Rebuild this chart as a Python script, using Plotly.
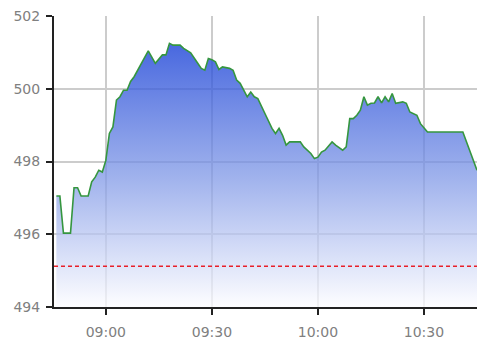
import plotly.graph_objects as go

times = ["08:46", "08:47", "08:48", "08:50", "08:51", "08:52", "08:53", "08:55", "08:56", "08:57",
         "08:58", "08:59", "09:00", "09:01", "09:02", "09:03", "09:04", "09:05", "09:06", "09:07",
         "09:08", "09:09", "09:11", "09:12", "09:14", "09:15", "09:16", "09:17", "09:18", "09:19",
         "09:21", "09:22", "09:24", "09:26", "09:27", "09:28", "09:29", "09:30", "09:31", "09:32",
         "09:33", "09:35", "09:36", "09:37", "09:38", "09:40", "09:41", "09:42", "09:43", "09:45",
         "09:46", "09:47", "09:48", "09:49", "09:50", "09:51", "09:52", "09:55", "09:56", "09:58",
         "09:59", "10:00", "10:01", "10:02", "10:04", "10:05", "10:07", "10:08", "10:09", "10:10",
         "10:11", "10:12", "10:13", "10:14", "10:15", "10:16", "10:17", "10:18", "10:19", "10:20",
         "10:21", "10:22", "10:24", "10:25", "10:26", "10:28", "10:29", "10:31", "10:41", "10:45"]
prices = [497.05, 497.05, 496.03, 496.03, 497.28, 497.28, 497.05, 497.05, 497.44, 497.57,
          497.76, 497.71, 498.03, 498.77, 498.95, 499.69, 499.78, 499.96, 499.96, 500.20,
          500.33, 500.51, 500.88, 501.04, 500.70, 500.83, 500.93, 500.93, 501.25, 501.20,
          501.20, 501.11, 500.99, 500.70, 500.56, 500.51, 500.83, 500.80, 500.74, 500.53,
          500.60, 500.56, 500.51, 500.24, 500.15, 499.78, 499.91, 499.78, 499.73, 499.32,
          499.09, 498.91, 498.77, 498.91, 498.72, 498.45, 498.54, 498.54, 498.40, 498.22,
          498.08, 498.12, 498.26, 498.31, 498.54, 498.45, 498.31, 498.40, 499.18, 499.18,
          499.27, 499.41, 499.78, 499.55, 499.60, 499.61, 499.78, 499.61, 499.78, 499.64,
          499.87, 499.60, 499.64, 499.60, 499.36, 499.27, 499.04, 498.81, 498.81, 497.76]
prev_close = 495.12
y_ticks = [494, 496, 498, 500, 502]
x_ticks = ["09:00", "09:30", "10:00", "10:30"]
x_range = ["08:45:20", "10:45:00"]

DAY = "2024-01-02 "
xs = [DAY + t for t in times]

fig = go.Figure()
fig.add_trace(go.Scatter(
    x=xs, y=prices, mode="lines",
    line=dict(color="#35963f", width=1.6),
    fill="tozeroy",
    fillgradient=dict(
        type="vertical",
        start=y_ticks[0], stop=max(prices),
        colorscale=[[0, "rgba(252,252,255,0.75)"], [0.5, "rgba(125,150,230,0.75)"],
                    [1, "rgba(25,65,215,0.8)"]],
    ),
    hoverinfo="skip",
))
fig.add_hline(y=prev_close, line=dict(color="#e8202a", width=1.5, dash="4px,3px"))

font = dict(family="DejaVu Sans", size=14, color="#808080")
fig.update_layout(
    width=477, height=339,
    margin=dict(l=54, r=0, t=16, b=32),
    paper_bgcolor="white", plot_bgcolor="white",
    showlegend=False,
    font=font,
    xaxis=dict(
        type="date",
        range=[DAY + x_range[0], DAY + x_range[1]],
        tickvals=[DAY + t for t in x_ticks], ticktext=x_ticks,
        showgrid=True, gridcolor="#cccccc", gridwidth=2,
        showline=True, linecolor="#222222", linewidth=2,
        ticks="outside", ticklen=6, tickwidth=2, tickcolor="#222222",
        ticklabelstandoff=5,
        zeroline=False, tickfont=font,
    ),
    yaxis=dict(
        range=[y_ticks[0], y_ticks[-1]],
        tickvals=y_ticks,
        showgrid=True, gridcolor="#cccccc", gridwidth=2,
        showline=True, linecolor="#222222", linewidth=2,
        ticks="outside", ticklen=6, tickwidth=2, tickcolor="#222222",
        ticklabelstandoff=3,
        zeroline=False, tickfont=font,
    ),
)
fig.write_html("out.html")
